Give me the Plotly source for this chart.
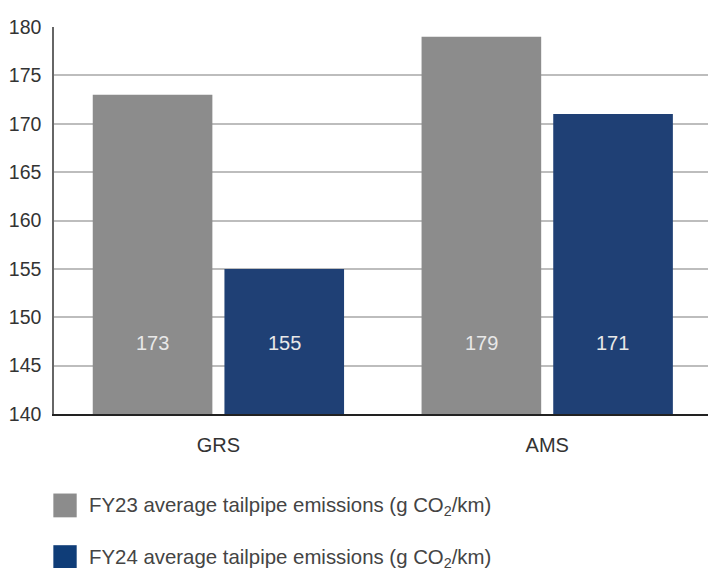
import plotly.graph_objects as go

categories = ["GRS", "AMS"]
fy23 = [173, 179]
fy24 = [155, 171]
series_names = ["FY23 average tailpipe emissions (g CO<sub>2</sub>/km)",
                "FY24 average tailpipe emissions (g CO<sub>2</sub>/km)"]
y_ticks = [140, 145, 150, 155, 160, 165, 170, 175, 180]
label_y = 147.3

gray = "#8c8c8c"
navy = "#1f4075"
legend_navy = "#0f3d78"
font = "Liberation Sans, Arial, sans-serif"

fig = go.Figure()
fig.add_trace(go.Bar(x=categories, y=fy23, marker=dict(color=gray, line=dict(width=0)),
                     name="FY23", showlegend=False, offsetgroup="a"))
fig.add_trace(go.Bar(x=categories, y=fy24, marker=dict(color=navy, line=dict(width=0)),
                     name="FY24", showlegend=False, offsetgroup="b"))

annotations = []
# value labels inside bars
for i, c in enumerate(categories):
    for vals, off in ((fy23, -0.2), (fy24, 0.2)):
        annotations.append(dict(x=i + off, y=label_y, xref="x", yref="y",
                                text=str(vals[i]), showarrow=False,
                                font=dict(family=font, size=20, color="#e8e8e8")))

# custom legend
leg = [(series_names[0], gray, -0.2055, -0.267),
       (series_names[1], legend_navy, -0.339, -0.401)]
shapes = []
for name, col, y0, y1 in leg:
    shapes.append(dict(type="rect", xref="paper", yref="paper", x0=-0.001, x1=0.0347,
                       y0=y1, y1=y0, fillcolor=col, line=dict(width=0)))
    annotations.append(dict(x=0.051, y=(y0 + y1) / 2 - 0.004, xref="paper", yref="paper",
                            xanchor="left", yanchor="middle", text=name, showarrow=False,
                            font=dict(family=font, size=20.4, color="#444444")))

fig.update_layout(
    width=708, height=568,
    margin=dict(l=54, r=0, t=26.5, b=153.7),
    paper_bgcolor="white", plot_bgcolor="white",
    barmode="group", bargap=0.199, bargroupgap=0.0916,
    showlegend=False,
    annotations=annotations, shapes=shapes,
    font=dict(family=font, size=20, color="#333333"),
    xaxis=dict(range=[-0.5, 1.489], showgrid=False, showline=True, linecolor="#222222",
               linewidth=1.5, ticks="", tickfont=dict(size=20, color="#333333"),
               ticklabelstandoff=12, zeroline=False),
    yaxis=dict(range=[140, 180], tickvals=y_ticks, showgrid=True, gridcolor="#bdbdbd",
               gridwidth=1.5, showline=True, linecolor="#666666", linewidth=1.5,
               ticks="", tickfont=dict(size=19.5, color="#333333"), ticklabelstandoff=7,
               zeroline=False),
)

fig.write_html("out.html", config={"displayModeBar": False},
               post_script="document.body.style.margin='0';document.body.style.overflow='hidden';")
